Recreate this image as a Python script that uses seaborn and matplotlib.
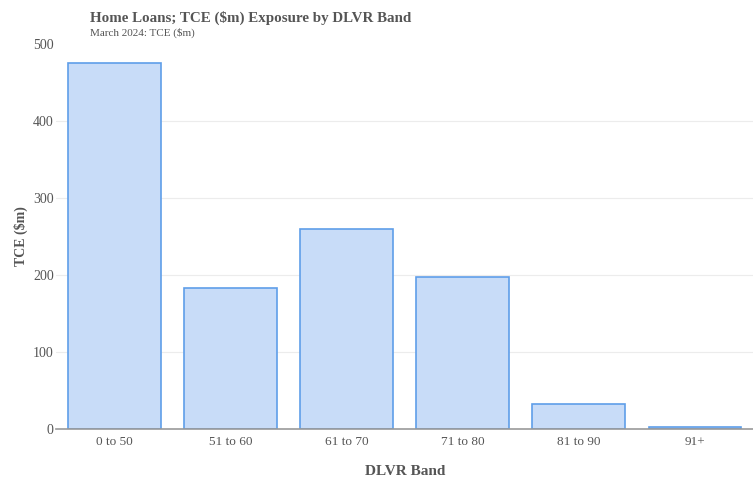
import matplotlib
matplotlib.use("Agg")
import matplotlib.pyplot as plt
import seaborn as sns
import pandas as pd

categories = ["0 to 50", "51 to 60", "61 to 70", "71 to 80", "81 to 90", "91+"]
tce_values = [475, 183, 260, 198, 32, 3]
y_ticks = [0, 100, 200, 300, 400, 500]

df = pd.DataFrame({"band": categories, "tce": tce_values})

sns.set_theme(style="white")
plt.rcParams['font.family'] = ['Liberation Serif', 'DejaVu Serif']

fig = plt.figure(figsize=(7.53, 4.84), dpi=100)
ax = fig.add_axes([0.075, 0.1136, 0.925, 0.7955])

sns.barplot(data=df, x="band", y="tce", ax=ax, color="#c8dcf8",
            edgecolor="#5f9ee9", linewidth=1.2, width=0.8, saturation=1)

ax.set_ylim(0, 500)
ax.set_xlim(-0.5, len(categories) - 0.5)
ax.set_yticks(y_ticks)
ax.set_yticklabels([str(v) for v in y_ticks])
for y in y_ticks[1:-1]:
    ax.axhline(y, color="#ececec", linewidth=0.8, zorder=0)

for s in ["top", "right", "left"]:
    ax.spines[s].set_visible(False)
ax.spines["bottom"].set_color("#999999")
ax.spines["bottom"].set_linewidth(1.2)

ax.tick_params(axis="y", length=0, labelsize=10, labelcolor="#555555", pad=2)
ax.tick_params(axis="x", length=0, labelsize=9.5, labelcolor="#555555", pad=5)

ax.set_xlabel("DLVR Band", fontsize=11, fontweight="bold", color="#555555")
ax.set_ylabel("TCE ($m)", fontsize=10, fontweight="bold", color="#555555")
ax.xaxis.set_label_coords(0.5, -0.093)
ax.yaxis.set_label_coords(-0.041, 0.5)

fig.text(0.119, 0.963, "Home Loans; TCE ($m) Exposure by DLVR Band", fontsize=10.8,
         fontweight="bold", color="#555555", va="center", ha="left")
fig.text(0.119, 0.932, "March 2024: TCE ($m)", fontsize=8, color="#555555",
         va="center", ha="left")

fig.savefig("out.png", dpi=100)
